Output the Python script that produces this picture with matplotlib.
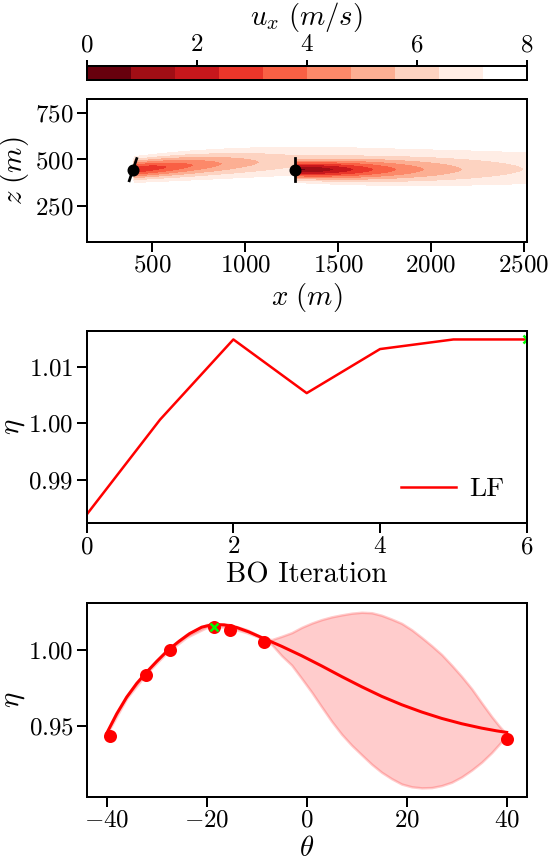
import numpy as np
import matplotlib
matplotlib.use('Agg')
import matplotlib.pyplot as plt

plt.rcParams['font.family'] = 'serif'
plt.rcParams['font.serif'] = ['cmr10', 'DejaVu Serif']
plt.rcParams['mathtext.fontset'] = 'cm'
plt.rcParams['axes.formatter.use_mathtext'] = True
plt.rcParams['font.size'] = 10
plt.rcParams['xtick.labelsize'] = 10
plt.rcParams['ytick.labelsize'] = 10
plt.rcParams['xtick.major.size'] = 4
plt.rcParams['ytick.major.size'] = 4
plt.rcParams['xtick.major.pad'] = 1.2
plt.rcParams['ytick.major.pad'] = 1.2

# ---- flow field (two-turbine gaussian wakes) ----
u_inf = 8.0
rotor_d = 126.0
turb_x = [397.0, 1268.0]
turb_z = [445.0, 445.0]
turb_yaw = [18.5, 0.0]          # deg
wake_cmax = [0.69, 0.90]        # peak velocity deficit
wake_len = [583.0, 605.0]
wake_pow = [1.68, 1.84]
wake_sigma0 = [38.0, 35.0]
wake_growth = [0.027, 0.028]
wake_defl = [70.0, 0.0]
defl_len = 800.0
u_levels = [0.0, 0.8, 1.6, 2.4, 3.2, 4.0, 4.8, 5.6, 6.4, 7.2, 8.0]
x_range = [148.0, 2515.0]
z_range = [56.0, 825.0]

# ---- BO history ----
bo_iter = [0, 1, 2, 3, 4, 5, 6]
bo_eta = [0.9838, 1.0006, 1.0148, 1.0053, 1.0131, 1.0148, 1.0148]

# ---- GP surrogate ----
obs_theta = [-39.3, -32.1, -27.4, -18.5, -15.4, -8.6, 40.0]
obs_eta = [0.9436, 0.9836, 1.0002, 1.0149, 1.0132, 1.0051, 0.9417]
best_theta = -18.5
best_eta = 1.0149

gp_theta = [-40.0, -38.0, -36.0, -34.0, -32.0, -30.0, -27.7, -25.5, -23.4, -21.0,
            -18.7, -16.5, -14.0, -11.5, -8.7, -5.0, -1.0, 3.0, 7.0, 11.0,
            15.0, 19.0, 23.0, 27.0, 31.0, 35.0, 38.0, 40.0]
gp_mean = [0.9452, 0.958, 0.969, 0.978, 0.9855, 0.9925, 1.000, 1.0058, 1.0108, 1.0150,
           1.0168, 1.0165, 1.0148, 1.0118, 1.0077, 1.0024, 0.9962, 0.9895, 0.9825, 0.9758,
           0.9695, 0.9640, 0.9592, 0.9550, 0.9515, 0.9486, 0.9468, 0.9458]

band_theta = [-40.0, -36.0, -32.0, -28.0, -24.0, -20.0, -16.0, -12.0, -8.7, -7.0,
              -5.0, -3.0, -1.0, 1.0, 3.0, 5.0, 7.0, 9.0, 11.0, 13.0,
              15.0, 17.0, 19.0, 21.0, 23.0, 25.0, 27.0, 29.0, 31.0, 33.0,
              35.0, 37.0, 38.5, 40.0]
band_upper = [0.9458, 0.9698, 0.9863, 0.9998, 1.0104, 1.0168, 1.0172, 1.0134, 1.0081, 1.0068,
              1.0090, 1.0114, 1.0149, 1.0177, 1.0200, 1.0218, 1.0231, 1.0242, 1.0248, 1.0245,
              1.0228, 1.0203, 1.0175, 1.0133, 1.0082, 1.0028, 0.9970, 0.9900, 0.9826, 0.9745,
              0.9652, 0.9562, 0.9500, 0.9445]
band_lower = [0.9446, 0.9682, 0.9847, 0.9982, 1.0084, 1.0148, 1.0152, 1.0114, 1.0073, 1.0036,
              0.9962, 0.9900, 0.9812, 0.9722, 0.9625, 0.9530, 0.9445, 0.9373, 0.9310, 0.9248,
              0.9195, 0.9153, 0.9118, 0.9100, 0.9093, 0.9095, 0.9108, 0.9130, 0.9165, 0.9210,
              0.9262, 0.9325, 0.9380, 0.9440]

W, H = 548, 861
fig = plt.figure(figsize=(W / 180, H / 180), dpi=180)

def pos(left, top, right, bottom):
    return [left / W, 1 - bottom / H, (right - left) / W, (bottom - top) / H]

cax = fig.add_axes(pos(86.7, 66, 526.7, 80))
ax1 = fig.add_axes(pos(86.7, 99.3, 526.7, 241.7))
ax2 = fig.add_axes(pos(86.7, 330.7, 526.7, 523.3))
ax3 = fig.add_axes(pos(86.7, 603.3, 526.7, 796.7))

# wake field
x = np.linspace(x_range[0], x_range[1], 900)
z = np.linspace(z_range[0], z_range[1], 350)
X, Z = np.meshgrid(x, z)
def_sq = np.zeros_like(X)
for i in range(len(turb_x)):
    dx = X - turb_x[i]
    dxp = np.clip(dx, 0, None)
    c = wake_cmax[i] / (1 + (dxp / wake_len[i]) ** wake_pow[i])
    sig = wake_sigma0[i] + wake_growth[i] * dxp
    zc = turb_z[i] + wake_defl[i] * (1 - np.exp(-dxp / defl_len))
    d = np.where(dx > 0, c * np.exp(-(Z - zc) ** 2 / (2 * sig ** 2)), 0.0)
    def_sq += d ** 2
U = u_inf * (1 - np.sqrt(def_sq))

cols = list(plt.cm.Reds_r(np.linspace(0, 0.95, 9))) + [(1, 1, 1, 1)]
cf = ax1.contourf(X, Z, U, levels=u_levels, colors=cols)
for i in range(len(turb_x)):
    a = np.deg2rad(turb_yaw[i])
    r = rotor_d / 2
    ax1.plot([turb_x[i] - r * np.sin(a), turb_x[i] + r * np.sin(a)],
             [turb_z[i] - r * np.cos(a), turb_z[i] + r * np.cos(a)], 'k', lw=1.1)
    ax1.plot(turb_x[i], turb_z[i], 'ko', ms=3.8)
ax1.set_xlim(x_range)
ax1.set_ylim(z_range)
ax1.set_xticks([500, 1000, 1500, 2000, 2500])
ax1.set_yticks([250, 500, 750])
ax1.set_xlabel(r'$x\ (m)$', fontsize=11.5, labelpad=1.5)
ax1.set_ylabel(r'$z\ (m)$', fontsize=11.5, labelpad=1.5)

cb = fig.colorbar(cf, cax=cax, orientation='horizontal')
cb.set_ticks([0, 2, 4, 6, 8])
cax.xaxis.set_ticks_position('top')
cax.xaxis.set_label_position('top')
cax.tick_params(length=2.5, pad=1.5)
cb.set_label(r'$u_x\ (m/s)$', fontsize=11.5, labelpad=3.5)

# BO iterations
ax2.plot(bo_iter, bo_eta, color='red', lw=1.0, label='LF')
ax2.plot(bo_iter[-1], bo_eta[-1], 'x', color='lime', ms=3.5, mew=1.0)
ax2.set_xlim(0, 6)
ax2.set_xticks([0, 2, 4, 6])
ax2.set_yticks([0.99, 1.00, 1.01])
ax2.set_xlabel('BO Iteration', fontsize=11.5, labelpad=1.5)
ax2.set_ylabel(r'$\eta$', fontsize=11.5, labelpad=0.5)
ax2.legend(loc='lower right', frameon=False, fontsize=11,
           borderaxespad=0.4, handletextpad=0.5)

# GP surrogate
ax3.fill_between(band_theta, band_lower, band_upper, color='red', alpha=0.2)
ax3.plot(gp_theta, gp_mean, color='red', lw=1.2)
ax3.plot(obs_theta, obs_eta, 'o', color='red', ms=4.2)
ax3.plot(best_theta, best_eta, 'x', color='lime', ms=3.5, mew=1.0)
ax3.set_xlim(-44, 44)
ax3.set_ylim(0.9035, 1.0307)
ax3.set_xticks([-40, -20, 0, 20, 40])
ax3.set_yticks([0.95, 1.00])
ax3.set_xlabel(r'$\theta$', fontsize=11.5, labelpad=1.5)
ax3.set_ylabel(r'$\eta$', fontsize=11.5, labelpad=0.5)

fig.savefig('out.png', dpi=180)
